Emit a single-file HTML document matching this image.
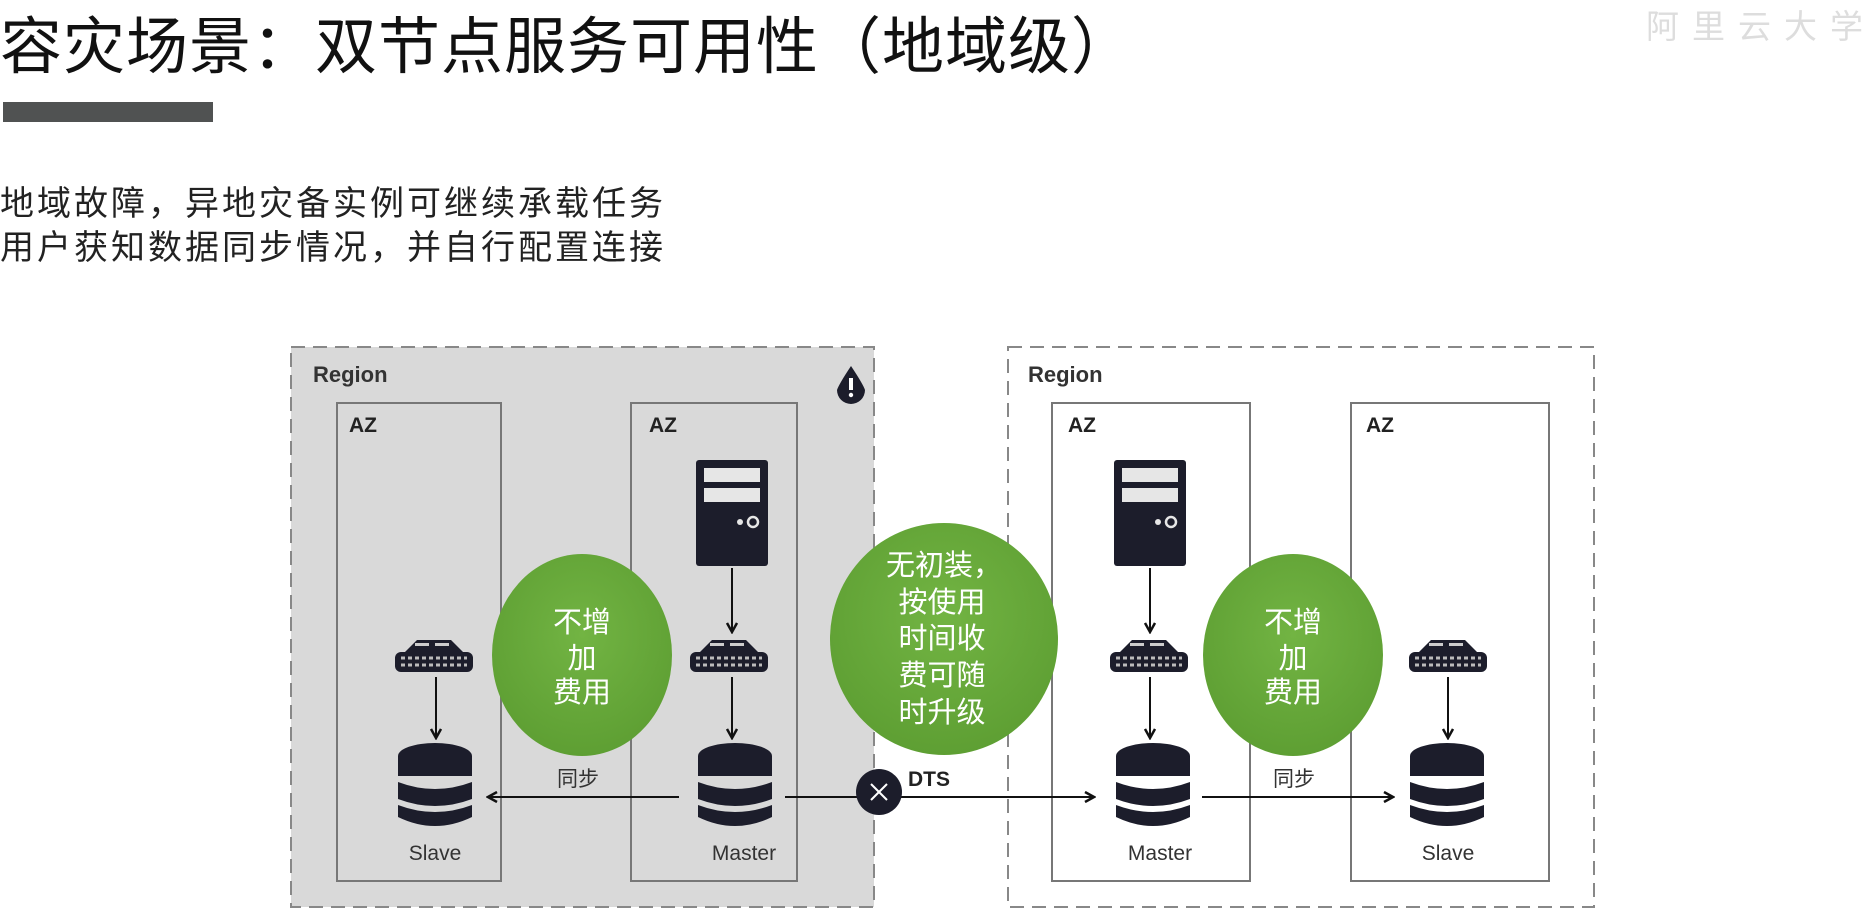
<!DOCTYPE html>
<html><head><meta charset="utf-8"><style>
html,body{margin:0;padding:0;background:#fff;}
body{width:1876px;height:922px;overflow:hidden;position:relative;font-family:"Liberation Sans","Noto Sans CJK SC",sans-serif;}
.t{position:absolute;white-space:nowrap;}
</style></head><body>
<div class="t" style="left:0;top:8px;font-size:62px;letter-spacing:1px;color:#111;line-height:80px;">容灾场景：双节点服务可用性（地域级）</div>
<div class="t" style="left:1646px;top:6px;font-size:33px;letter-spacing:13px;color:#ddd;line-height:42px;">阿里云大学</div>
<div style="position:absolute;left:3px;top:102px;width:210px;height:20px;background:#505252;"></div>
<div class="t" style="left:0;top:184px;font-size:34px;letter-spacing:3px;color:#222;line-height:40px;">地域故障，异地灾备实例可继续承载任务</div>
<div class="t" style="left:0;top:228px;font-size:34px;letter-spacing:3px;color:#222;line-height:40px;">用户获知数据同步情况，并自行配置连接</div>

<svg width="1876" height="922" style="position:absolute;left:0;top:0" xmlns="http://www.w3.org/2000/svg">
<defs>
<marker id="ah" markerWidth="12" markerHeight="12" refX="10" refY="6" orient="auto" markerUnits="userSpaceOnUse">
<path d="M1,1 L10,6 L1,11" fill="none" stroke="#111" stroke-width="2.5"/>
</marker>
<radialGradient id="g" cx="50%" cy="40%" r="60%"><stop offset="0" stop-color="#72b443"/><stop offset="1" stop-color="#5e9f33"/></radialGradient>
<g id="db">
<ellipse cx="37" cy="13" rx="37" ry="13" fill="#1c1d2b"/>
<rect x="0" y="13" width="74" height="20" fill="#1c1d2b"/>
<path d="M0,39 Q37,53 74,39 L74,56 Q37,70 0,56Z" fill="#1c1d2b"/>
<path d="M0,62 Q37,76 74,62 L74,74 Q37,92 0,74Z" fill="#1c1d2b"/>
</g>
<g id="sw">
<path d="M10,14 L22,2 L56,2 L68,14Z" fill="#1c1d2b"/>
<rect x="0" y="14" width="78" height="20" rx="6" fill="#1c1d2b"/>
<g fill="#ccc"><rect x="20" y="5" width="14" height="3"/><rect x="40" y="5" width="14" height="3"/></g>
<g stroke="#bbb" stroke-width="3" stroke-dasharray="4 3"><line x1="6" y1="20" x2="72" y2="20"/><line x1="6" y1="27" x2="72" y2="27"/></g>
</g>
<g id="srv">
<rect x="0" y="0" width="72" height="106" rx="3" fill="#1c1d2b"/>
<rect x="8" y="8" width="56" height="14" fill="#e6e6e6"/>
<rect x="8" y="28" width="56" height="14" fill="#e6e6e6"/>
<circle cx="44" cy="62" r="3" fill="#e6e6e6"/>
<circle cx="57" cy="62" r="5" fill="none" stroke="#e6e6e6" stroke-width="2.5"/>
</g>
</defs>

<rect x="291" y="347" width="583" height="560" fill="#d9d9d9" stroke="#888" stroke-width="2" stroke-dasharray="14 8"/>
<rect x="1008" y="347" width="586" height="560" fill="#fff" stroke="#888" stroke-width="2" stroke-dasharray="14 8"/>
<g font-family="Liberation Sans,sans-serif" font-weight="bold" fill="#333" font-size="22">
<text x="313" y="382">Region</text><text x="1028" y="382">Region</text>
</g>
<g fill="none" stroke="#777" stroke-width="2">
<rect x="337" y="403" width="164" height="478"/><rect x="631" y="403" width="166" height="478"/>
<rect x="1052" y="403" width="198" height="478"/><rect x="1351" y="403" width="198" height="478"/>
</g>
<g font-family="Liberation Sans,sans-serif" font-weight="bold" fill="#222" font-size="21">
<text x="349" y="432">AZ</text><text x="649" y="432">AZ</text><text x="1068" y="432">AZ</text><text x="1366" y="432">AZ</text>
</g>
<path d="M851,366 Q863,384 865,390 A14,14 0 1 1 837,390 Q839,384 851,366Z" fill="#1c1d2b"/>
<rect x="849" y="378" width="4" height="12" fill="#fff"/><circle cx="851" cy="395" r="2.2" fill="#fff"/>

<use href="#srv" x="696" y="460"/><use href="#srv" x="1114" y="460"/>
<use href="#sw" x="395" y="638"/><use href="#sw" x="690" y="638"/><use href="#sw" x="1110" y="638"/><use href="#sw" x="1409" y="638"/>
<use href="#db" x="398" y="743"/><use href="#db" x="698" y="743"/><use href="#db" x="1116" y="743"/><use href="#db" x="1410" y="743"/>

<g stroke="#111" stroke-width="2" marker-end="url(#ah)">
<line x1="732" y1="568" x2="732" y2="632"/>
<line x1="1150" y1="568" x2="1150" y2="632"/>
<line x1="436" y1="677" x2="436" y2="738"/>
<line x1="732" y1="677" x2="732" y2="738"/>
<line x1="1150" y1="677" x2="1150" y2="738"/>
<line x1="1448" y1="677" x2="1448" y2="738"/>
<line x1="679" y1="797" x2="488" y2="797"/>
<line x1="901" y1="797" x2="1094" y2="797"/>
<line x1="1202" y1="797" x2="1393" y2="797"/>
</g>
<line x1="785" y1="797" x2="860" y2="797" stroke="#111" stroke-width="2"/>
<circle cx="879" cy="792" r="23" fill="#1c1d2b"/>
<g stroke="#fff" stroke-width="2"><line x1="871" y1="784" x2="887" y2="800"/><line x1="887" y1="784" x2="871" y2="800"/></g>

<g font-family="Liberation Sans,Noto Sans CJK SC,sans-serif" fill="#333" font-size="21" text-anchor="middle">
<text x="578" y="786">同步</text><text x="1294" y="786">同步</text>
<text x="435" y="860">Slave</text><text x="744" y="860">Master</text><text x="1160" y="860">Master</text><text x="1448" y="860">Slave</text>
</g>
<text x="908" y="786" font-family="Liberation Sans,sans-serif" font-weight="bold" font-size="21" fill="#222">DTS</text>

<ellipse cx="582" cy="655" rx="90" ry="101" fill="url(#g)"/>
<ellipse cx="944" cy="639" rx="114" ry="116" fill="url(#g)"/>
<ellipse cx="1293" cy="655" rx="90" ry="101" fill="url(#g)"/>
<g font-family="Noto Sans CJK SC,sans-serif" fill="#fff" font-size="29" text-anchor="middle">
<text x="582" y="632">不增</text><text x="582" y="668">加</text><text x="582" y="702">费用</text>
<text x="1293" y="632">不增</text><text x="1293" y="668">加</text><text x="1293" y="702">费用</text>
<text x="944" y="575">无初装，</text><text x="942" y="612">按使用</text><text x="942" y="648">时间收</text><text x="942" y="685">费可随</text><text x="942" y="722">时升级</text>
</g>
</svg>
</body></html>
